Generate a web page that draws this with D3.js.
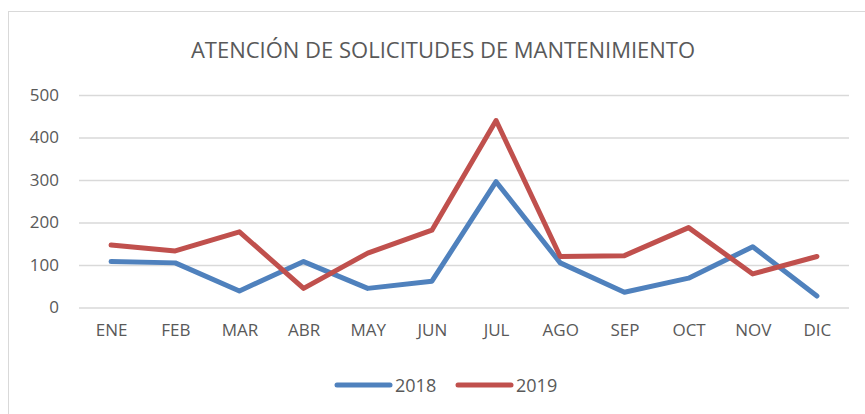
<!DOCTYPE html>
<html>
<head>
<meta charset="utf-8">
<script src="https://cdn.jsdelivr.net/npm/d3@7"></script>
<style>
  body { margin: 0; background: #fff; }
  text { font-family: "Open Sans", "Liberation Sans", sans-serif; fill: #595959; }
</style>
</head>
<body>
<svg id="chart" width="865" height="414"></svg>
<script>
// data
let months = ['ENE', 'FEB', 'MAR', 'ABR', 'MAY', 'JUN', 'JUL', 'AGO', 'SEP', 'OCT', 'NOV', 'DIC'];
let values2018 = [108, 105, 39, 108, 45, 62, 296, 105, 36, 69, 143, 27];
let values2019 = [147, 133, 178, 45, 128, 182, 440, 120, 122, 188, 79, 120];
let yTicks = [0, 100, 200, 300, 400, 500];
let seriesNames = ['2018', '2019'];
let colors = ['#4F81BD', '#C0504D'];

let svg = d3.select('#chart');

// chart frame
svg.append('rect')
  .attr('x', 8.5).attr('y', 11.5)
  .attr('width', 900).attr('height', 500)
  .attr('fill', 'none')
  .attr('stroke', '#d9d9d9');

let xScale = d3.scalePoint()
  .domain(months)
  .range([79, 849])
  .padding(0.5);

let yScale = d3.scaleLinear()
  .domain([0, 500])
  .range([307.5, 95]);

// title
svg.append('text')
  .attr('x', 443)
  .attr('y', 57.5)
  .attr('text-anchor', 'middle')
  .style('font-size', '22px')
  .text('ATENCIÓN DE SOLICITUDES DE MANTENIMIENTO');

// gridlines + y labels
let yAxis = d3.axisLeft(yScale)
  .tickValues(yTicks)
  .tickSize(-(849 - 79))
  .tickPadding(20);

svg.append('g')
  .attr('transform', 'translate(79,0)')
  .call(yAxis)
  .call(g => g.select('.domain').remove())
  .call(g => g.selectAll('line').attr('stroke', '#d9d9d9').attr('stroke-width', 1.3))
  .call(g => g.selectAll('text')
    .style('font-size', '17px')
    .attr('fill', '#595959'));

// x labels
let xAxis = d3.axisBottom(xScale).tickSize(0).tickPadding(0);
svg.append('g')
  .attr('transform', 'translate(0,324)')
  .call(xAxis)
  .call(g => g.select('.domain').remove())
  .call(g => g.selectAll('text')
    .style('font-size', '17px')
    .attr('fill', '#595959'));

// lines
let line = d3.line()
  .x((d, i) => xScale(months[i]))
  .y(d => yScale(d));

[values2018, values2019].forEach((vals, k) => {
  svg.append('path')
    .datum(vals)
    .attr('d', line)
    .attr('fill', 'none')
    .attr('stroke', colors[k])
    .attr('stroke-width', 5)
    .attr('stroke-linejoin', 'round')
    .attr('stroke-linecap', 'round');
});

// legend
let legendX = [337, 458];
seriesNames.forEach((name, k) => {
  let g = svg.append('g').attr('transform', `translate(${legendX[k]},385)`);
  g.append('line')
    .attr('x1', 0).attr('x2', 53)
    .attr('stroke', colors[k])
    .attr('stroke-width', 5)
    .attr('stroke-linecap', 'round');
  g.append('text')
    .attr('x', 58)
    .attr('y', 7)
    .style('font-size', '18px')
    .text(name);
});
</script>
</body>
</html>
